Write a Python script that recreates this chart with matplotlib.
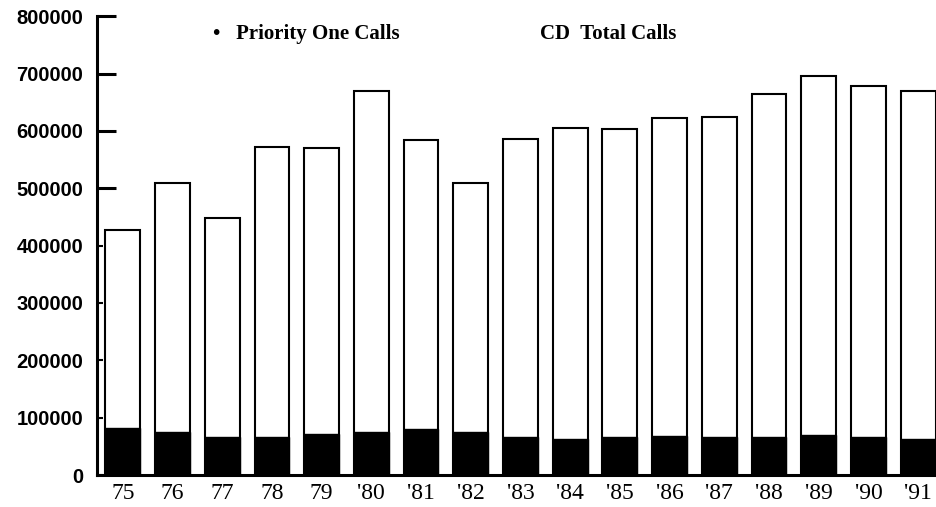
import numpy as np
import matplotlib.pyplot as plt

# # Data
years = ['75', '76', '77', '78', '79', "'80", "'81", "'82", "'83",
         "'84", "'85", "'86", "'87", "'88", "'89", "'90", "'91"]
total_calls = [427000, 510000, 448000, 572000, 570000, 670000, 584000, 510000,
               586000, 605000, 603000, 622000, 624000, 664000, 696000, 678000, 670000]
priority_one = [82000, 75000, 66000, 66000, 72000, 75000, 80000, 75000,
                66000, 63000, 66000, 68000, 66000, 66000, 70000, 66000, 63000]

fig = plt.figure(figsize=(9.36, 5.07), dpi=100)
ax = fig.add_axes([0.1036, 0.063, 0.8964, 0.905])

x = np.arange(len(years))
ax.bar(x, total_calls, width=0.7, color='white', edgecolor='black', linewidth=1.5)
ax.bar(x, priority_one, width=0.7, color='black', edgecolor='black', linewidth=1)

ax.set_xlim(-0.52, 16.36)
ax.set_ylim(0, 800000)

# Spines
for side in ['top', 'right']:
    ax.spines[side].set_visible(False)
ax.spines['left'].set_linewidth(2.2)
ax.spines['bottom'].set_linewidth(2.2)

# Long ticks on the upper part, short ones below
ax.set_yticks([500000, 600000, 700000, 800000],
              labels=['500000', '600000', '700000', '800000'])
ax.set_yticks([0, 100000, 200000, 300000, 400000],
              labels=['0', '100000', '200000', '300000', '400000'], minor=True)
ax.tick_params(axis='y', which='major', direction='in', length=14, width=2.2, pad=10)
ax.tick_params(axis='y', which='minor', direction='in', length=4, width=1.5, pad=10)
for lab in ax.get_yticklabels(which='both'):
    lab.set_fontfamily('Liberation Sans')
    lab.set_fontweight('bold')
    lab.set_fontsize(14.5)

ax.set_xticks(x, labels=years)
ax.tick_params(axis='x', length=0, pad=6)
for lab in ax.get_xticklabels():
    lab.set_fontfamily('Liberation Serif')
    lab.set_fontsize(17)

# Legend-like header text
fig.text(0.228, 0.933, '\u2022   Priority One Calls', family='Liberation Serif',
         fontweight='bold', fontsize=15, va='center', ha='left')
fig.text(0.577, 0.933, 'CD  Total Calls', family='Liberation Serif',
         fontweight='bold', fontsize=15, va='center', ha='left')

fig.savefig('out.png', dpi=100)
